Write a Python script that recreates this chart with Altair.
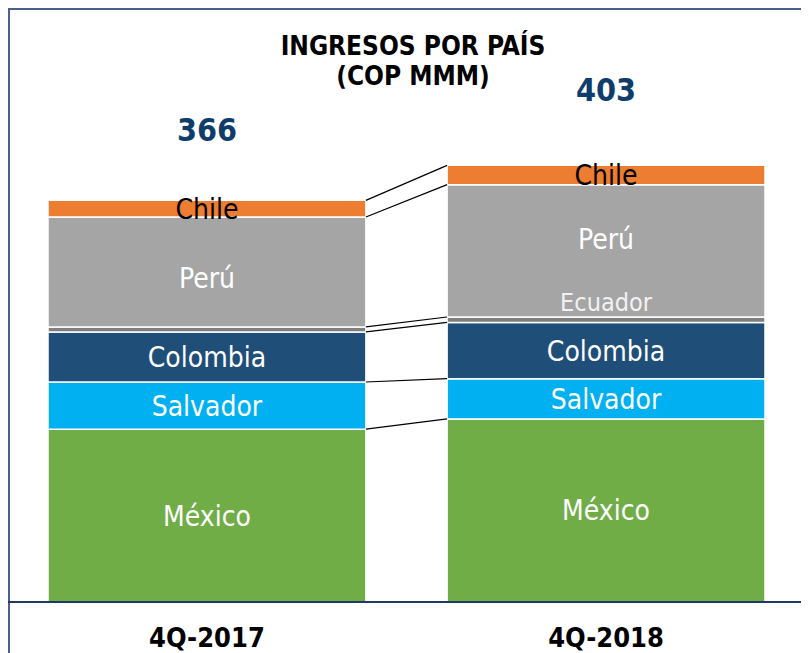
import altair as alt
import pandas as pd

# ---- data ----
quarters = ["4Q-2017", "4Q-2018"]
countries = ["México", "Salvador", "Colombia", "Ecuador", "Perú", "Chile"]
values_2017 = [157.5, 43.0, 45.6, 4.6, 100.2, 15.1]
values_2018 = [166.8, 36.7, 51.3, 4.9, 120.6, 17.6]
totals = [366, 403]
title_lines = ["INGRESOS POR PAÍS", "(COP MMM)"]

colors = ["#70AD47", "#00B0F0", "#1F4E79", "#7F7F7F", "#A5A5A5", "#ED7D31"]

FONT = "DejaVu Sans Condensed, DejaVu Sans"

# ---- tables built from the arrays ----
rows = []
for q, vals in zip(quarters, [values_2017, values_2018]):
    cum = 0.0
    for i, (c, v) in enumerate(zip(countries, vals)):
        rows.append(dict(quarter=q, country=c, start=cum, end=cum + v,
                         mid=cum + v / 2, order=i))
        cum += v
bars_df = pd.DataFrame(rows)

conn_rows = []
b1 = bars_df[bars_df.quarter == quarters[0]].set_index("country")
b2 = bars_df[bars_df.quarter == quarters[1]].set_index("country")
for c in countries:
    conn_rows.append(dict(country=c, q_from=quarters[0], q_to=quarters[1],
                          y_from=b1.loc[c, "end"], y_to=b2.loc[c, "end"]))
conn_df = pd.DataFrame(conn_rows)

totals_df = pd.DataFrame({"quarter": quarters, "total": totals})
one = pd.DataFrame({"k": [0]})

W, H = 793, 594
xscale = alt.Scale(domain=quarters, range=[40, 757], paddingInner=0.2035, paddingOuter=0)
yscale = alt.Scale(domain=[0, 541.3], nice=False, zero=True)
xaxis = alt.Axis(title=None, domain=False, ticks=False,
                 labelFont=FONT, labelFontSize=27, labelFontWeight="bold",
                 labelColor="#000000", labelPadding=23, labelBaseline="top",
                 labelAngle=0, grid=False)
X = alt.X("quarter:N", scale=xscale, axis=xaxis, sort=quarters)

bars = alt.Chart(bars_df).mark_bar(stroke="white", strokeWidth=1.5).encode(
    x=X,
    y=alt.Y("start:Q", scale=yscale, axis=None),
    y2="end:Q",
    color=alt.Color("country:N", scale=alt.Scale(domain=countries, range=colors), legend=None),
)

connectors = alt.Chart(conn_df).mark_rule(color="black", strokeWidth=1.2).encode(
    x=alt.X("q_from:N", scale=xscale, axis=xaxis, bandPosition=1),
    x2=alt.X2("q_to:N", bandPosition=0),
    y=alt.Y("y_from:Q", scale=yscale, axis=None),
    y2="y_to:Q",
)

def labels(filter_expr, dy, color="white", size=28):
    return alt.Chart(bars_df).transform_filter(filter_expr).mark_text(
        font=FONT, fontSize=size, color=color, baseline="middle", align="center", dy=dy
    ).encode(
        x=X,
        y=alt.Y("mid:Q", scale=yscale, axis=None),
        text="country:N",
    )

lbl_main = labels("indexof(['México','Salvador','Colombia'], datum.country) >= 0", 2)
lbl_chile = labels("datum.country == 'Chile'", 2, color="black")
lbl_peru1 = labels("datum.country == 'Perú' && datum.quarter == '4Q-2017'", 8)
lbl_peru2 = labels("datum.country == 'Perú' && datum.quarter == '4Q-2018'", -9.5)
lbl_ecu2 = labels("datum.country == 'Ecuador' && datum.quarter == '4Q-2018'", -17,
                  color="#F2F2F2", size=25)

total_lbl = alt.Chart(totals_df).mark_text(
    font=FONT, fontSize=32, fontWeight="bold", color="#0F3D6B", baseline="middle", dy=-69
).encode(
    x=X,
    y=alt.Y("total:Q", scale=yscale, axis=None),
    text="total:Q",
)

title1 = alt.Chart(one).mark_text(
    font=FONT, fontSize=26, fontWeight="bold", color="black", baseline="middle", align="center"
).encode(x=alt.value(405), y=alt.value(39), text=alt.value(title_lines[0]))
title2 = alt.Chart(one).mark_text(
    font=FONT, fontSize=26, fontWeight="bold", color="black", baseline="middle", align="center"
).encode(x=alt.value(405), y=alt.value(69), text=alt.value(title_lines[1]))

frame_top = alt.Chart(one).mark_rule(color="#4A6090", strokeWidth=2).encode(
    x=alt.value(0), x2=alt.value(W), y=alt.value(1))
frame_left = alt.Chart(one).mark_rule(color="#4A6090", strokeWidth=2).encode(
    x=alt.value(1), y=alt.value(0), y2=alt.value(H + 60))
baseline = alt.Chart(one).mark_rule(color="#1F3864", strokeWidth=2).encode(
    x=alt.value(0), x2=alt.value(W), y=alt.value(H))

chart = alt.layer(
    bars, connectors, lbl_main, lbl_chile, lbl_peru1, lbl_peru2, lbl_ecu2,
    total_lbl, title1, title2, frame_top, frame_left, baseline
).properties(
    width=W, height=H,
    autosize=alt.AutoSizeParams(type="none"),
    padding={"left": 0, "top": 0, "right": 0, "bottom": 52},
    background="white",
).configure_view(stroke=None)

chart.save("out.html", embed_options={"renderer": "svg", "actions": False})
